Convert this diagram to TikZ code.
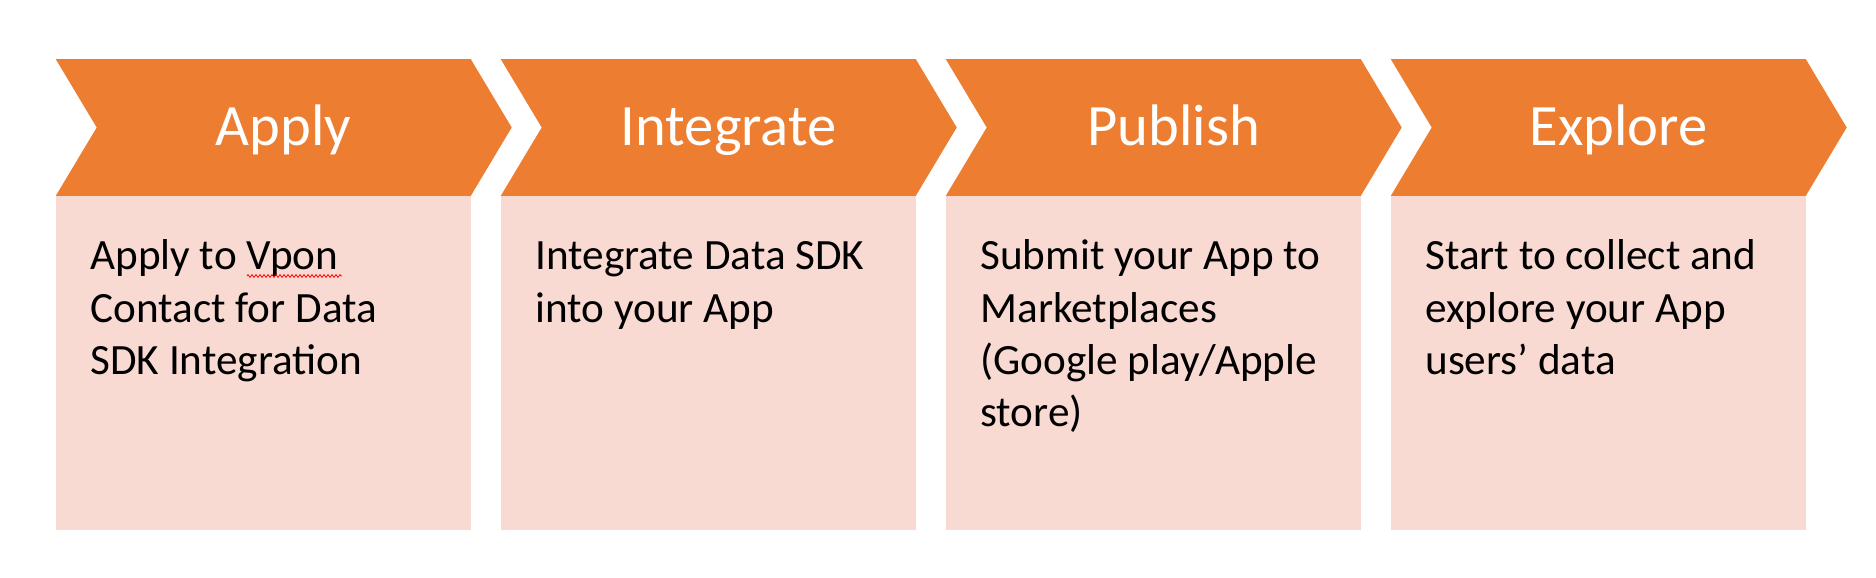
\documentclass[tikz,border=0pt]{standalone}
\usepackage{fontspec}
\setmainfont{Carlito}
\usepackage{tikz}
\usetikzlibrary{decorations.pathmorphing}
\usepackage{xcolor}
\definecolor{steporange}{HTML}{ED7D31}
\definecolor{steppink}{HTML}{F8DAD2}
\newcommand{\topstrut}{\rule{0pt}{17pt}}

\begin{document}
\begin{tikzpicture}[
    x=0.5pt, y=-0.5pt,
    chevron/.style={fill=steporange},
    card/.style={fill=steppink},
    header/.style={text=white,font=\fontsize{29.3}{35}\selectfont,inner sep=0pt,anchor=base},
    body/.style={font=\fontsize{21.6}{26.1}\selectfont,align=left,inner sep=0pt,anchor=north west},
    squiggle/.style={red,line width=0.4pt,decorate,decoration={zigzag,amplitude=0.7pt,segment length=2pt}}
]
\useasboundingbox (0,0) rectangle (1876,578);
% Step 1 - Apply
\begin{scope}
    \fill[chevron] (55.7,59) -- (470.7,59) -- (511.7,127.5) -- (470.7,196)
        -- (55.7,196) -- (96.7,127.5) -- cycle;
    \fill[card] (55.7,196) rectangle (470.7,530);
    \node[header] (apply) at (283.7,145) {Apply};
    \node[body] (applytext) at (90,235.5) {\topstrut Apply to Vpon\\Contact for Data\\SDK Integration};
    % spell check mark under Vpon
    \draw[squiggle] (247,276) -- (342,276);
\end{scope}
% Step 2 - Integrate
\begin{scope}[shift={(445,0)}]
    \fill[chevron] (55.7,59) -- (470.7,59) -- (511.7,127.5) -- (470.7,196)
        -- (55.7,196) -- (96.7,127.5) -- cycle;
    \fill[card] (55.7,196) rectangle (470.7,530);
    \node[header] (integrate) at (283.7,145) {Integrate};
    \node[body] (integratetext) at (90,235.5) {\topstrut Integrate Data SDK\\into your App};
\end{scope}
% Step 3 - Publish
\begin{scope}[shift={(890,0)}]
    \fill[chevron] (55.7,59) -- (470.7,59) -- (511.7,127.5) -- (470.7,196)
        -- (55.7,196) -- (96.7,127.5) -- cycle;
    \fill[card] (55.7,196) rectangle (470.7,530);
    \node[header] (publish) at (283.7,145) {Publish};
    \node[body] (publishtext) at (90,235.5) {\topstrut Submit your App to\\Marketplaces\\(Google play/Apple\\store)};
\end{scope}
% Step 4 - Explore
\begin{scope}[shift={(1335,0)}]
    \fill[chevron] (55.7,59) -- (470.7,59) -- (511.7,127.5) -- (470.7,196)
        -- (55.7,196) -- (96.7,127.5) -- cycle;
    \fill[card] (55.7,196) rectangle (470.7,530);
    \node[header] (explore) at (283.7,145) {Explore};
    \node[body] (exploretext) at (90,235.5) {\topstrut Start to collect and\\explore your App\\users’ data};
\end{scope}
\end{tikzpicture}
\end{document}
